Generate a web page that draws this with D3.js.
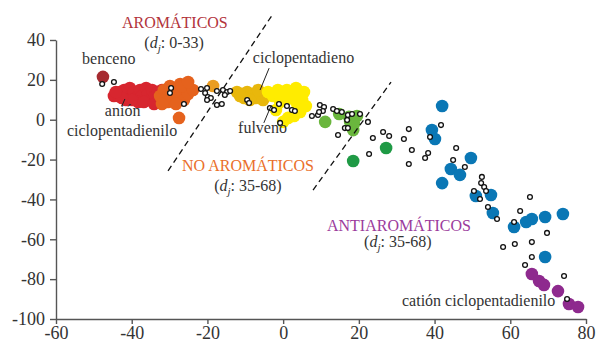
<!DOCTYPE html>
<html>
<head>
<meta charset="utf-8">
<script src="https://cdn.jsdelivr.net/npm/d3@7"></script>
<style>
  body { margin: 0; background: #fff; }
  .axis path, .axis line { stroke: #555; stroke-width: 1.4; }
  .axis text { font-size: 18px; fill: #333; }
</style>
</head>
<body>
<div id="chart"></div>
<script>
// axis ticks
var xTicks = [-60, -40, -20, 0, 20, 40, 60, 80];
var yTicks = [40, 20, 0, -20, -40, -60, -80, -100];

// benceno
var benceno = [[-47.6, 21.5]];

// aromaticos (red)
var rojos = [
  [-44.7, 11.9], [-43.6, 11.9], [-42.0, 14.9], [-41.0, 12.9], [-40.5, 15.9],
  [-39.4, 13.9], [-38.9, 10.9], [-37.8, 14.9], [-37.3, 11.9], [-36.2, 15.9],
  [-35.7, 12.9], [-35.2, 9.9], [-34.6, 14.9], [-33.8, 11.9], [-33.1, 13.9],
  [-32.5, 9.9], [-41.5, 9.9], [-43.1, 13.9], [-38.3, 8.9], [-39.9, 9.9],
  [-36.8, 8.9], [-42.6, 10.9], [-44.2, 13.9], [-34.1, 7.9], [-32.0, 14.9]
];

// orange
var naranjas = [
  [-32.5, 11.9], [-31.5, 14.9], [-30.9, 10.9], [-29.9, 16.9], [-29.4, 12.9],
  [-28.8, 9.9], [-28.3, 15.9], [-27.8, 11.9], [-27.2, 17.9], [-26.7, 13.9],
  [-26.2, 9.9], [-25.7, 15.9], [-25.1, 12.9], [-30.4, 8.9], [-32.0, 7.9],
  [-28.3, 7.9], [-26.7, 16.9], [-23.8, 14.9], [-27.5, 0.9], [-25.1, 18.9]
];

var ambar = [[-18.5, 16.9]];

var dorados = [
  [-12.2, 13.9], [-10.9, 12.9], [-9.5, 13.9], [-8.2, 11.9], [-7.2, 10.9],
  [-6.1, 12.9], [-5.3, 9.9], [-4.5, 11.9], [-6.6, 14.9], [-8.8, 9.9],
  [-10.3, 10.9], [-11.4, 11.9]
];

var amarillos = [
  [-4.0, 13.9], [-2.7, 11.9], [-1.4, 14.9], [0.0, 12.9], [1.0, 14.9],
  [1.8, 11.9], [2.9, 13.9], [3.4, 15.9], [4.2, 11.9], [5.5, 13.9],
  [5.0, 9.9], [3.7, 7.9], [6.0, 6.9], [4.5, 3.9], [2.9, 1.9],
  [1.3, 0.9], [0.0, -1.1], [-1.9, 4.9], [-0.8, 8.9], [0.8, 9.9]
];

var verdesClaros = [
  [11.1, -1.1], [14.8, 2.9], [17.7, -1.1], [18.5, -5.2], [19.5, 1.9],
  [18.7, -2.2], [17.4, 1.4]
];

var verdesOscuros = [[27.2, -14.2], [18.5, -20.7]];

var azules = [
  [42.0, 6.9], [39.3, -5.2], [40.1, -9.7], [49.6, -19.2], [44.3, -24.7],
  [46.7, -27.7], [42.0, -31.8], [50.9, -38.3], [54.9, -37.8], [55.4, -46.8],
  [61.0, -53.8], [64.2, -51.3], [65.7, -49.8], [69.2, -48.8], [73.9, -47.3],
  [69.2, -68.9]
];

var morados = [
  [65.7, -77.4], [67.6, -80.9], [68.9, -82.9], [72.6, -86.0], [75.5, -92.5],
  [77.9, -94.0]
];

// other molecules (open)
var abiertos = [
  [-47.8, 17.9], [-44.7, 18.9], [-29.6, 15.9], [-29.9, 13.4], [-26.2, 7.9],
  [-21.7, 15.4], [-20.1, 15.9], [-20.6, 13.4], [-19.9, 11.4], [-19.1, 10.9],
  [-20.1, 9.9], [-17.5, 14.4], [-15.9, 14.9], [-14.8, 13.9], [-14.0, 14.4],
  [-15.4, 12.4], [-17.5, 7.4], [-16.2, 7.9],
  [-9.5, 9.9], [-9.0, 8.4], [-3.5, 5.9], [-2.4, 4.9], [-1.1, 7.9], [-0.8, -1.6],
  [1.0, 6.9], [2.3, 4.9], [3.1, 4.4], [7.6, 1.9], [9.2, 2.4], [9.7, 7.4],
  [10.8, 6.4], [10.5, 4.4], [9.5, 3.9], [13.2, 5.4], [14.2, 4.4], [15.5, 3.9],
  [16.9, -0.1], [16.3, -4.2], [17.1, -4.2], [14.5, -7.7], [17.1, 2.4],
  [18.2, 2.9], [20.3, 2.9], [22.4, -1.1], [23.7, -9.2],
  [26.4, -6.2], [28.0, -8.2], [22.7, -17.2], [31.9, -9.7], [33.2, -4.7],
  [34.0, -15.2], [33.2, -22.2], [37.5, -19.2], [38.3, -16.7], [41.7, -2.7],
  [38.8, -8.7], [45.7, -14.2], [44.9, -20.2], [48.0, -23.7], [52.5, -28.7],
  [52.3, -31.8], [53.1, -33.8], [53.6, -35.8], [50.4, -35.8], [52.0, -39.8],
  [54.1, -43.8], [56.5, -49.8], [61.0, -51.3], [62.6, -45.8], [65.2, -38.8],
  [69.7, -56.8], [58.1, -63.9], [61.2, -62.4], [65.7, -61.4], [65.7, -68.9],
  [63.9, -72.9], [74.2, -78.4], [75.0, -90.0]
];

// dashed separators
var separadores = [
  [[-30.4, -25.7], [-2.9, 52.5]],
  [[7.9, -35.3], [28.5, 18.9]]
];

var serif = "'Liberation Serif', 'Times New Roman', Times, serif";
var width = 596, height = 342;
var svg = d3.select("#chart").append("svg")
    .attr("width", width)
    .attr("height", height)
    .attr("font-family", serif);

var x = d3.scaleLinear().domain([-60, 80]).range([56, 586]);
var y = d3.scaleLinear().domain([-100, 40]).range([319, 40]);

svg.append("g")
    .attr("class", "x axis")
    .attr("transform", "translate(0," + y(-100) + ")")
    .call(d3.axisBottom(x).tickValues(xTicks).tickSize(5).tickSizeOuter(0).tickPadding(2).tickFormat(d3.format("d")))
    .attr("font-family", serif);

svg.append("g")
    .attr("class", "y axis")
    .attr("transform", "translate(" + x(-60) + ",0)")
    .call(d3.axisLeft(y).tickValues(yTicks).tickSize(6).tickSizeOuter(0).tickPadding(5).tickFormat(d3.format("d")))
    .attr("font-family", serif);

// plain hyphen for negatives, like the original
svg.selectAll(".axis text").text(function(d) { return String(d); });

// filled groups
var grupos = [
  { data: rojos, color: "#d7262f" },
  { data: naranjas, color: "#e5621d" },
  { data: ambar, color: "#eb9d22" },
  { data: dorados, color: "#e8b70c" },
  { data: amarillos, color: "#ffec00" },
  { data: verdesClaros, color: "#6ab63d" },
  { data: verdesOscuros, color: "#1f9a45" },
  { data: azules, color: "#0a77b5" },
  { data: morados, color: "#8e2a8e" },
  { data: benceno, color: "#a62a30" }
];

grupos.forEach(function(g) {
  svg.append("g").selectAll("circle")
      .data(g.data)
    .enter().append("circle")
      .attr("cx", function(d) { return x(d[0]); })
      .attr("cy", function(d) { return y(d[1]); })
      .attr("r", 6.3)
      .attr("fill", g.color);
});

svg.append("g").selectAll("circle")
    .data(abiertos)
  .enter().append("circle")
    .attr("cx", function(d) { return x(d[0]); })
    .attr("cy", function(d) { return y(d[1]); })
    .attr("r", 2.4)
    .attr("fill", "#fff")
    .attr("stroke", "#111")
    .attr("stroke-width", 1.3);

svg.append("g").selectAll("line")
    .data(separadores)
  .enter().append("line")
    .attr("x1", function(d) { return x(d[0][0]); })
    .attr("y1", function(d) { return y(d[0][1]); })
    .attr("x2", function(d) { return x(d[1][0]); })
    .attr("y2", function(d) { return y(d[1][1]); })
    .attr("stroke", "#111")
    .attr("stroke-width", 1.3)
    .attr("stroke-dasharray", "6,4");

// leader lines
var guias = [
  [[-3.7, 25.9], [-6.1, 14.9]],
  [[-5.1, -1.6], [-3.2, 6.9]],
  [[-42.6, 6.9], [-41.8, 10.4]]
];
svg.append("g").selectAll("line")
    .data(guias)
  .enter().append("line")
    .attr("x1", function(d) { return x(d[0][0]); })
    .attr("y1", function(d) { return y(d[0][1]); })
    .attr("x2", function(d) { return x(d[1][0]); })
    .attr("y2", function(d) { return y(d[1][1]); })
    .attr("stroke", "#222")
    .attr("stroke-width", 1);

// labels
function etiqueta(txt, px, py, anchor, color) {
  return svg.append("text")
      .attr("x", x(px))
      .attr("y", y(py))
      .attr("text-anchor", anchor)
      .attr("font-size", 16)
      .attr("fill", color)
      .text(txt);
}

function rango(txt, px, py) {
  var t = svg.append("text")
      .attr("x", x(px))
      .attr("y", y(py))
      .attr("text-anchor", "middle")
      .attr("font-size", 16)
      .attr("fill", "#333");
  t.append("tspan").text("(");
  t.append("tspan").attr("font-style", "italic").text("d");
  t.append("tspan").attr("font-style", "italic").attr("font-size", 11).attr("dy", 4).text("j");
  t.append("tspan").attr("dy", -4).text(txt + ")");
}

etiqueta("AROMÁTICOS", -28.6, 46.0, "middle", "#b2333b");
rango(": 0-33", -28.8, 36.0);
etiqueta("benceno", -53.1, 28.0, "start", "#333");
etiqueta("anión", -47.1, 1.9, "start", "#333");
etiqueta("ciclopentadienilo", -57.1, -8.2, "start", "#333");
etiqueta("ciclopentadieno", -8.0, 28.5, "start", "#333");
etiqueta("fulveno", -11.9, -6.7, "start", "#333");
etiqueta("NO AROMÁTICOS", -9.3, -25.7, "middle", "#ea6f2a");
rango(": 35-68", -9.3, -35.8);
etiqueta("ANTIAROMÁTICOS", 30.6, -55.8, "middle", "#9b3b9c");
rango(": 35-68", 30.3, -63.9);
etiqueta("catión ciclopentadienilo", 31.4, -93.5, "start", "#333");
</script>
</body>
</html>
